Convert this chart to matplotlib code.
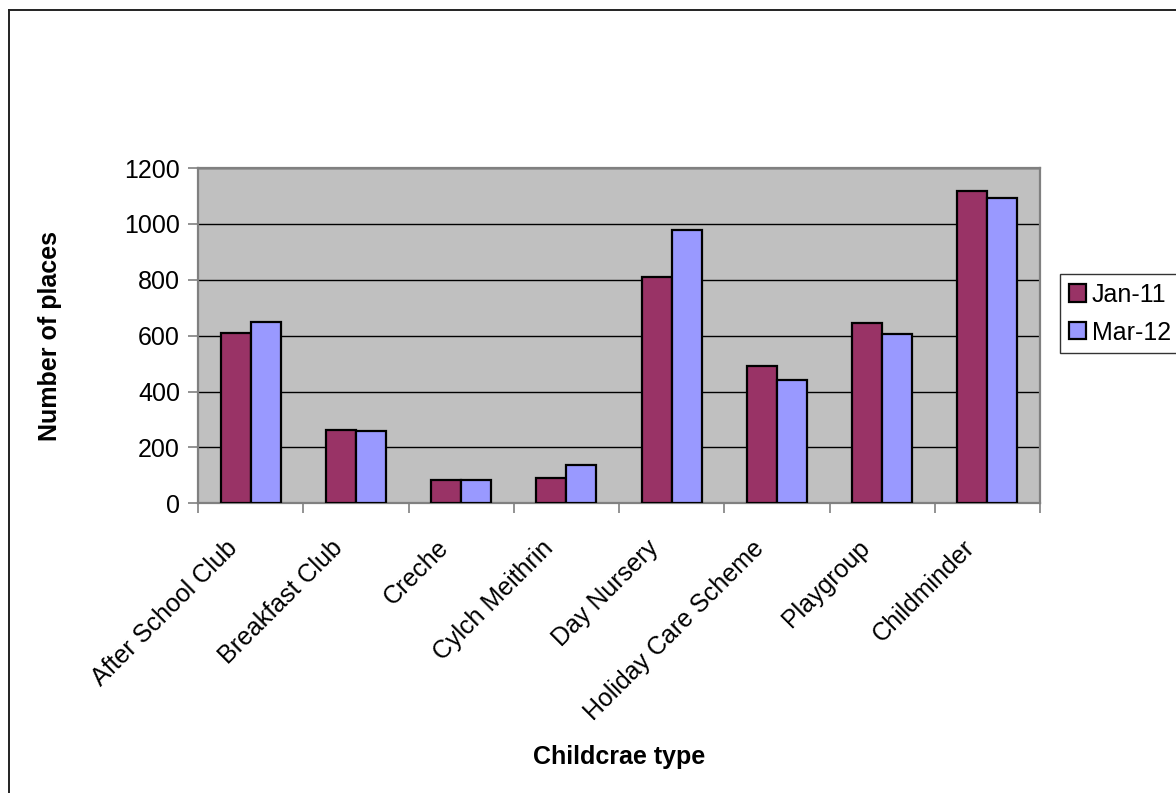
import matplotlib
matplotlib.use('Agg')
import matplotlib.pyplot as plt
import matplotlib.transforms as mtransforms
import numpy as np

matplotlib.rcParams['font.family'] = 'sans-serif'
matplotlib.rcParams['font.sans-serif'] = ['Liberation Sans', 'DejaVu Sans']

categories = ['After School Club', 'Breakfast Club', 'Creche', 'Cylch Meithrin',
              'Day Nursery', 'Holiday Care Scheme', 'Playgroup', 'Childminder']
jan_11 = [610, 262, 82, 89, 809, 492, 645, 1116]
mar_12 = [650, 259, 82, 138, 978, 441, 606, 1091]
series_labels = ['Jan-11', 'Mar-12']

fs = 18
W, H = 1176, 793
fig = plt.figure(figsize=(W / 100, H / 100), dpi=100)
ax = fig.add_axes([198 / W, 1 - 503.3 / H, 842 / W, 335.3 / H])
ax.set_facecolor('#C0C0C0')

x = np.arange(len(categories))
w = 1 / 3.5
ax.bar(x - w / 2, jan_11, w, color='#993366', edgecolor='black', linewidth=1.6,
       label=series_labels[0], zorder=3)
ax.bar(x + w / 2, mar_12, w, color='#9999FF', edgecolor='black', linewidth=1.6,
       label=series_labels[1], zorder=3)

ax.set_xlim(-0.5, len(categories) - 0.5)
ax.set_ylim(0, 1200)
ax.set_yticks(range(0, 1201, 200))
ax.yaxis.grid(True, color='black', linewidth=1.0, zorder=1)
ax.set_axisbelow(True)

# category labels at centres, tick marks at the boundaries
ax.set_xticks(x)
ax.set_xticklabels(categories, rotation=45, ha='right', va='top')
ax.set_xticks(np.arange(-0.5, len(categories)), minor=True)
ax.tick_params(axis='x', which='major', length=0, pad=23.5, labelsize=fs)
ax.tick_params(axis='x', which='minor', length=7, width=1.2, color='#808080')
ax.tick_params(axis='y', length=7, width=1.2, color='#808080', labelsize=fs, pad=6)
shift = mtransforms.ScaledTranslation(-0.08, 0, fig.dpi_scale_trans)
for lbl in ax.get_xticklabels():
    lbl.set_transform(lbl.get_transform() + shift)

for s in ax.spines.values():
    s.set_color('#808080')
    s.set_linewidth(1.6)

fig.text(50 / W, 1 - 335.5 / H, 'Number of places', rotation=90, ha='center',
         va='center', fontsize=fs, fontweight='bold')
fig.text(619 / W, 1 - 757 / H, 'Childcrae type', ha='center', va='center',
         fontsize=fs, fontweight='bold')

leg = fig.legend(loc='upper left', bbox_to_anchor=(1060 / W, 1 - 274 / H),
                 fontsize=fs, frameon=True, fancybox=False, borderaxespad=0,
                 handlelength=0.68, handleheight=0.68, handletextpad=0.25,
                 labelspacing=0.55, borderpad=0.35)
leg.get_frame().set_edgecolor('black')
leg.get_frame().set_linewidth(1.0)

# chart area border
fig.add_artist(plt.Line2D([9 / W, 9 / W], [0, 1 - 10 / H], color='#222222', linewidth=1.4))
fig.add_artist(plt.Line2D([9 / W, 1], [1 - 10 / H, 1 - 10 / H], color='#222222', linewidth=1.4))

fig.savefig('out.png', dpi=100)
